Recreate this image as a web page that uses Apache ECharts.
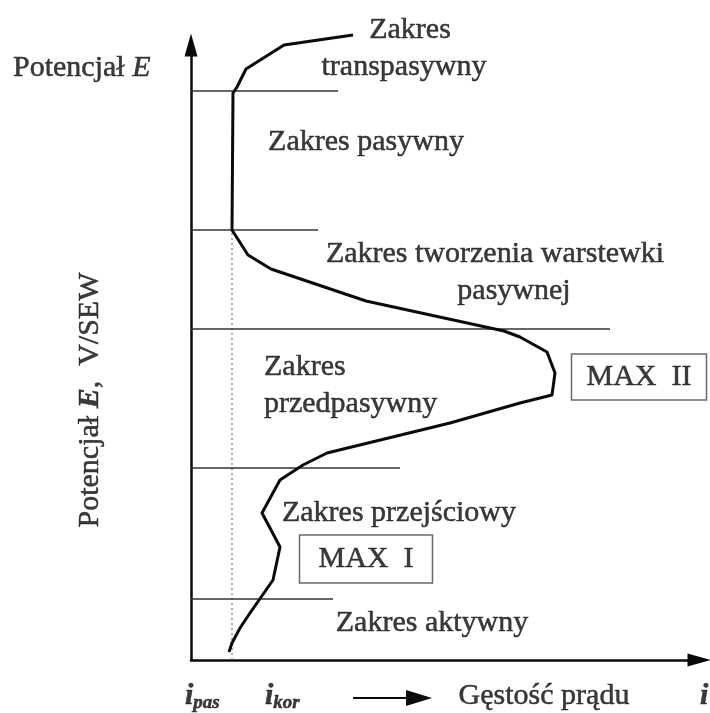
<!DOCTYPE html>
<html>
<head>
<meta charset="utf-8">
<script src="https://cdn.jsdelivr.net/npm/echarts@6/dist/echarts.min.js"></script>
<style>
  html, body { margin: 0; padding: 0; background: #fff; }
  #main { width: 710px; height: 713px; }
</style>
</head>
<body>
<div id="main"></div>
<script>
// krzywa polaryzacji anodowej (schemat), jednostki umowne
var curveI = [38, 41, 49, 59, 82, 89, 79, 71, 89, 112, 136, 259, 329, 361, 364, 356, 329, 313, 175, 80, 57, 41, 42, 46, 55, 93, 162];
var curveE = [8, 17, 32, 47, 80, 113, 132, 147, 180, 195, 207, 237, 257, 265, 287, 308, 323, 329, 359, 391, 405, 430, 567, 573, 591, 615, 625];

// granice zakresow (poziome linie)
var boundaryE = [61, 192, 331, 430, 569];
var boundaryEnd = [142, 209, 419, 127, 147];

// i_pas - linia kropkowana
var iPas = 41;

var chart = echarts.init(document.getElementById('main'));
var FONT = 'Liberation Serif';
var INK = '#0a0a0a';

var curveData = curveI.map(function (v, k) { return [v, curveE[k]]; });

var series = [];

// linia kropkowana i_pas
series.push({
  type: 'line',
  xAxisIndex: 0, yAxisIndex: 0,
  data: [[iPas, 0], [iPas, boundaryE[3]]],
  symbol: 'none',
  silent: true,
  lineStyle: { color: '#777', width: 1.2, type: [2, 3] }
});

// poziome granice
boundaryE.forEach(function (e, k) {
  series.push({
    type: 'line',
    xAxisIndex: 0, yAxisIndex: 0,
    data: [[0, e], [boundaryEnd[k], e]],
    symbol: 'none',
    silent: true,
    lineStyle: { color: '#333', width: 1.3 }
  });
});

// krzywa
series.push({
  type: 'line',
  xAxisIndex: 0, yAxisIndex: 0,
  data: curveData,
  symbol: 'none',
  clip: false,
  silent: true,
  lineStyle: { color: INK, width: 3, join: 'round' },
  z: 5
});

// opisy (warstwa nakladki, wspolrzedne ekranu)
var notes = [
  { text: 'Zakres', x: 410, y: 30 },
  { text: 'transpasywny', x: 404, y: 67 },
  { text: 'Zakres pasywny', x: 366, y: 142 },
  { text: 'Zakres tworzenia warstewki', x: 495, y: 254 },
  { text: 'pasywnej', x: 514, y: 291 },
  { text: 'Zakres', x: 264, y: 367, align: 'left' },
  { text: 'przedpasywny', x: 264, y: 404, align: 'left' },
  { text: 'Zakres przejściowy', x: 399, y: 513 },
  { text: 'Zakres aktywny', x: 432, y: 623 },
  { text: 'Gęstość prądu', x: 544, y: 696 }
];

var noteData = notes.map(function (n) {
  return {
    value: [n.x, n.y],
    label: { formatter: n.text, align: n.align || 'center' }
  };
});

// ramki MAX
var boxes = [
  { text: 'MAX  II', x: 639, y: 377, pad: [8, 15] },
  { text: 'MAX  I', x: 366, y: 559, pad: [9, 19] }
];
boxes.forEach(function (b) {
  noteData.push({
    value: [b.x, b.y],
    label: {
      formatter: b.text,
      align: 'center',
      borderColor: '#444',
      borderWidth: 1.5,
      padding: b.pad
    }
  });
});

// opisy osi
noteData.push({
  value: [13, 68],
  label: { formatter: '{r|Potencjał }{e|E}', align: 'left' }
});
noteData.push({
  value: [90, 400],
  label: { formatter: '{r|Potencjał }{eb|E}{r|,  V/SEW}', align: 'center', rotate: 90 }
});
noteData.push({
  value: [185, 696],
  label: { formatter: '{i|i}{s|pas}', align: 'left' }
});
noteData.push({
  value: [265, 696],
  label: { formatter: '{i|i}{s|kor}', align: 'left' }
});
noteData.push({
  value: [700, 696],
  label: { formatter: '{i|i}', align: 'left' }
});

var stroke = { textBorderColor: INK, textBorderWidth: 0.5 };
function tok(o) { return Object.assign({ fontFamily: FONT, fontSize: 30, color: INK }, stroke, o); }

series.push({
  type: 'scatter',
  xAxisIndex: 1, yAxisIndex: 1,
  data: noteData,
  symbolSize: 1,
  silent: true,
  itemStyle: { color: 'rgba(0,0,0,0)' },
  label: Object.assign({
    show: true,
    position: 'inside',
    verticalAlign: 'middle',
    color: INK,
    fontFamily: FONT,
    fontSize: 30,
    rich: {
      r: tok({}),
      e: tok({ fontStyle: 'italic' }),
      eb: tok({ fontStyle: 'italic', fontWeight: 'bold' }),
      i: tok({ fontStyle: 'italic', fontWeight: 'bold' }),
      s: tok({ fontSize: 19, fontStyle: 'italic', fontWeight: 'bold', padding: [14, 0, 0, 0] })
    }
  }, stroke),
  z: 10
});

// strzalka przy osi pradu
series.push({
  type: 'line',
  xAxisIndex: 1, yAxisIndex: 1,
  data: [],
  symbol: 'none',
  markLine: {
    silent: true,
    symbol: ['none', 'triangle'],
    symbolSize: [16, 26],
    label: { show: false },
    lineStyle: { color: INK, width: 2, type: 'solid' },
    data: [[{ coord: [353, 698] }, { coord: [419, 698] }]]
  }
});

var option = {
  backgroundColor: '#fff',
  animation: false,
  grid: [
    { left: 191, right: 11, top: 45, bottom: 53 },
    { left: 0, right: 0, top: 0, bottom: 0 }
  ],
  xAxis: [
    {
      type: 'value', gridIndex: 0, min: 0, max: 508,
      axisLine: { show: true, symbol: ['none', 'triangle'], symbolSize: [13, 23], lineStyle: { color: INK, width: 2.5 } },
      axisTick: { show: false }, axisLabel: { show: false }, splitLine: { show: false }
    },
    { type: 'value', gridIndex: 1, min: 0, max: 710, show: false }
  ],
  yAxis: [
    {
      type: 'value', gridIndex: 0, min: 0, max: 615,
      axisLine: { show: true, symbol: ['none', 'triangle'], symbolSize: [13, 23], lineStyle: { color: INK, width: 2.5 } },
      axisTick: { show: false }, axisLabel: { show: false }, splitLine: { show: false }
    },
    { type: 'value', gridIndex: 1, min: 0, max: 713, inverse: true, show: false }
  ],
  series: series
};

chart.setOption(option);
</script>
</body>
</html>
